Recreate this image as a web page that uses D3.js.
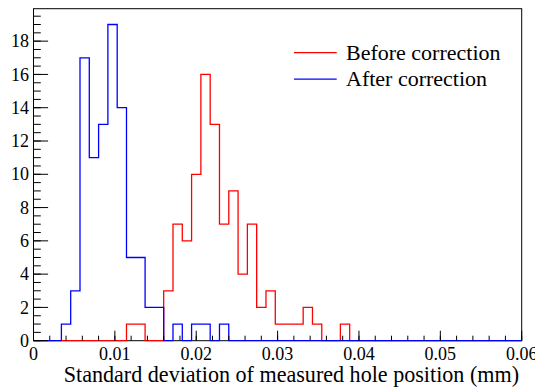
<!DOCTYPE html>
<html>
<head>
<meta charset="utf-8">
<script src="https://cdn.jsdelivr.net/npm/d3@7"></script>
<style>
  body { margin: 0; background: #fff; }
</style>
</head>
<body>
<div id="chart"></div>
<script>
// histogram binning: 70 bins over [0, 0.08], axis shows [0, 0.06]
const binWidth = 0.08 / 70;

// counts per bin, starting at bin 0 (0 - 0.00114)
const beforeCounts = [0, 0, 0, 0, 0, 0, 0, 0, 0, 0,
                      1, 1, 0, 0, 3, 7, 6, 10, 16, 13,
                      7, 9, 4, 7, 2, 3, 1, 1, 1, 2,
                      1, 0, 0, 1, 0, 0, 0, 0, 0, 0,
                      0, 0, 0, 0, 0, 0, 0, 0, 0, 0,
                      0, 0, 0];
const afterCounts  = [0, 0, 0, 1, 3, 17, 11, 13, 19, 14,
                      5, 5, 2, 2, 0, 1, 0, 1, 1, 0,
                      1, 0, 0, 0, 0, 0, 0, 0, 0, 0,
                      0, 0, 0, 0, 0, 0, 0, 0, 0, 0,
                      0, 0, 0, 0, 0, 0, 0, 0, 0, 0,
                      0, 0, 0];

const xTicks = [0, 0.01, 0.02, 0.03, 0.04, 0.05, 0.06];
const yTicks = [0, 2, 4, 6, 8, 10, 12, 14, 16, 18];
const seriesNames = ["Before correction", "After correction"];
const seriesColors = ["#ff0000", "#0000ff"];

const FONT = "'Liberation Serif', 'DejaVu Serif', serif";

const W = 535, H = 390;
const margin = { left: 33.5, right: 13.3, top: 8.7, bottom: 49.3 };
const pw = W - margin.left - margin.right;
const ph = H - margin.top - margin.bottom;

const svg = d3.select("#chart").append("svg")
  .attr("width", W)
  .attr("height", H)
  .attr("font-family", FONT);

const g = svg.append("g")
  .attr("transform", "translate(" + margin.left + "," + margin.top + ")");

const x = d3.scaleLinear().domain([0, 0.06]).range([0, pw]);
const y = d3.scaleLinear().domain([0, 19.95]).range([ph, 0]);

// clip to the frame
svg.append("defs").append("clipPath").attr("id", "frame")
  .append("rect").attr("x", 0).attr("y", -1).attr("width", pw).attr("height", ph + 2);

// frame
g.append("rect")
  .attr("x", 0).attr("y", 0)
  .attr("width", pw).attr("height", ph)
  .attr("fill", "none")
  .attr("stroke", "#000")
  .attr("stroke-width", 1);

// histogram outlines
function stepPoints(counts) {
  const pts = counts.map((c, i) => [i * binWidth, c]);
  pts.push([counts.length * binWidth, counts[counts.length - 1]]);
  return pts;
}
const line = d3.line()
  .x(d => x(d[0]))
  .y(d => y(d[1]))
  .curve(d3.curveStepAfter);

[beforeCounts, afterCounts].forEach((counts, i) => {
  g.append("path")
    .attr("clip-path", "url(#frame)")
    .attr("d", line(stepPoints(counts)))
    .attr("fill", "none")
    .attr("stroke", seriesColors[i])
    .attr("stroke-width", 1.3);
});

// x axis ticks (inside)
const xMinor = d3.range(0, 0.0601, 0.002);
g.selectAll(".xminor").data(xMinor).enter().append("line")
  .attr("x1", d => x(d)).attr("x2", d => x(d))
  .attr("y1", ph).attr("y2", ph - 5)
  .attr("stroke", "#000");
g.selectAll(".xmajor").data(xTicks).enter().append("line")
  .attr("x1", d => x(d)).attr("x2", d => x(d))
  .attr("y1", ph).attr("y2", ph - 10)
  .attr("stroke", "#000");
g.selectAll(".xlab").data(xTicks).enter().append("text")
  .attr("x", d => x(d))
  .attr("y", ph + 19)
  .attr("text-anchor", "middle")
  .attr("font-family", FONT)
  .attr("font-size", 18)
  .text(d => d === 0 ? "0" : d3.format(".2f")(d));

// y axis ticks (inside)
const yMinor = d3.range(0, 19.9, 0.5);
g.selectAll(".yminor").data(yMinor).enter().append("line")
  .attr("x1", 0).attr("x2", 7.3)
  .attr("y1", d => y(d)).attr("y2", d => y(d))
  .attr("stroke", "#000");
g.selectAll(".ymajor").data(yTicks).enter().append("line")
  .attr("x1", 0).attr("x2", 14.6)
  .attr("y1", d => y(d)).attr("y2", d => y(d))
  .attr("stroke", "#000");
g.selectAll(".ylab").data(yTicks).enter().append("text")
  .attr("x", -4.5)
  .attr("y", d => y(d) + 6.2)
  .attr("text-anchor", "end")
  .attr("font-family", FONT)
  .attr("font-size", 18)
  .text(d => d);

// x axis title
svg.append("text")
  .attr("x", 519)
  .attr("y", 382)
  .attr("text-anchor", "end")
  .attr("font-family", FONT)
  .attr("font-size", 22.1)
  .text("Standard deviation of measured hole position (mm)");

// legend
const legend = svg.append("g").attr("transform", "translate(294,0)");
seriesNames.forEach((name, i) => {
  const ly = 52.7 + i * 26.5;
  legend.append("line")
    .attr("x1", 0).attr("x2", 42.7)
    .attr("y1", ly).attr("y2", ly)
    .attr("stroke", seriesColors[i])
    .attr("stroke-width", 1.3);
  legend.append("text")
    .attr("x", 52)
    .attr("y", ly + 6.8)
    .attr("font-family", FONT)
    .attr("font-size", 22)
    .text(name);
});
</script>
</body>
</html>
